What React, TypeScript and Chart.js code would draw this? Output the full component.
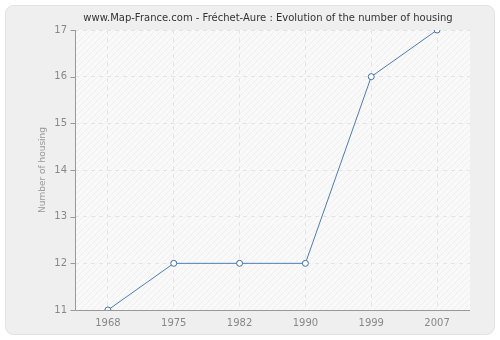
import React, { useEffect, useRef } from "react";
import { Chart, registerables } from "chart.js";

Chart.register(...registerables);

const years = ["1968", "1975", "1982", "1990", "1999", "2007"];
const housing = [11, 12, 12, 12, 16, 17];
const titleText = "www.Map-France.com - Fréchet-Aure : Evolution of the number of housing";
const yTitle = "Number of housing";

const FONT = "DejaVu Sans, Verdana, sans-serif";

function makePattern(ctx: CanvasRenderingContext2D) {
  const c = document.createElement("canvas");
  c.width = 6;
  c.height = 6;
  const g = c.getContext("2d")!;
  g.fillStyle = "#f9f9f9";
  g.fillRect(0, 0, 6, 6);
  g.strokeStyle = "#ececec";
  g.lineWidth = 0.8;
  g.beginPath();
  g.moveTo(0, 6);
  g.lineTo(6, 0);
  g.moveTo(-3, 3);
  g.lineTo(3, -3);
  g.moveTo(3, 9);
  g.lineTo(9, 3);
  g.stroke();
  return ctx.createPattern(c, "repeat");
}

const bgPlugin = {
  id: "bgPlugin",
  beforeDraw(chart: any) {
    const { ctx, chartArea } = chart;
    ctx.save();
    ctx.fillStyle = "#ffffff";
    ctx.fillRect(0, 0, chart.width, chart.height);
    const x = 5.5, y = 5.5, w = 489, h = 329, r = 8;
    ctx.beginPath();
    ctx.moveTo(x + r, y);
    ctx.arcTo(x + w, y, x + w, y + h, r);
    ctx.arcTo(x + w, y + h, x, y + h, r);
    ctx.arcTo(x, y + h, x, y, r);
    ctx.arcTo(x, y, x + w, y, r);
    ctx.closePath();
    ctx.fillStyle = "#efefef";
    ctx.fill();
    ctx.strokeStyle = "#e2e2e2";
    ctx.lineWidth = 1;
    ctx.stroke();
    const pat = makePattern(ctx);
    ctx.fillStyle = pat || "#f8f8f8";
    ctx.fillRect(chartArea.left, chartArea.top, chartArea.right - chartArea.left, chartArea.bottom - chartArea.top);
    ctx.fillStyle = "#333333";
    ctx.font = "10px " + FONT;
    ctx.textAlign = "center";
    ctx.textBaseline = "middle";
    ctx.fillText(titleText, 268, 18);
    ctx.save();
    ctx.translate(43, (chartArea.top + chartArea.bottom) / 2);
    ctx.rotate(-Math.PI / 2);
    ctx.fillStyle = "#999999";
    ctx.font = "9px " + FONT;
    ctx.fillText(yTitle, 0, 0);
    ctx.restore();
    ctx.restore();
  },
  afterDraw(chart: any) {
    const { ctx, chartArea, scales } = chart;
    ctx.save();
    ctx.strokeStyle = "#999999";
    ctx.lineWidth = 1;
    ctx.beginPath();
    const lx = Math.round(chartArea.left) + 0.5;
    const by = Math.round(chartArea.bottom) + 0.5;
    ctx.moveTo(lx, chartArea.top);
    ctx.lineTo(lx, by);
    ctx.lineTo(chartArea.right, by);
    scales.y.ticks.forEach((t: any) => {
      const yy = Math.round(scales.y.getPixelForValue(t.value)) + 0.5;
      ctx.moveTo(lx - 5, yy);
      ctx.lineTo(lx, yy);
    });
    ctx.stroke();
    ctx.restore();
  },
};

export default function App() {
  const ref = useRef<HTMLCanvasElement>(null);
  useEffect(() => {
    document.body.style.margin = "0";
    const chart = new Chart(ref.current!, {
      type: "line",
      data: {
        labels: years,
        datasets: [
          {
            data: housing,
            borderColor: "#4f7db0",
            borderWidth: 1,
            backgroundColor: "#ffffff",
            pointBackgroundColor: "#ffffff",
            pointBorderColor: "#3f6fa5",
            pointBorderWidth: 1,
            pointRadius: 3,
            tension: 0,
            fill: false,
          },
        ],
      },
      options: {
        animation: false,
        responsive: false,
        layout: { padding: { left: 0, right: 30, top: 30, bottom: 0 } },
        plugins: { legend: { display: false }, title: { display: false }, tooltip: { enabled: false } },
        scales: {
          x: {
            offset: true,
            grid: { offset: false, color: "#e4e4e4", drawTicks: false },
            border: { display: false, dash: [4, 4] },
            ticks: { color: "#888888", font: { family: FONT, size: 10 }, padding: 7 },
            afterFit: (s: any) => { s.height = 30; },
          },
          y: {
            min: 11,
            max: 17,
            grid: { color: "#e4e4e4", drawTicks: false },
            border: { display: false, dash: [4, 4] },
            ticks: { stepSize: 1, color: "#888888", font: { family: FONT, size: 10 }, padding: 8 },
            afterFit: (s: any) => { s.width = 75; },
          },
        },
      },
      plugins: [bgPlugin],
    });
    return () => chart.destroy();
  }, []);
  return (
    <div style={{ position: "absolute", left: 0, top: 0, width: 500, height: 340 }}>
      <canvas ref={ref} width={500} height={340} style={{ width: 500, height: 340 }} />
    </div>
  );
}
